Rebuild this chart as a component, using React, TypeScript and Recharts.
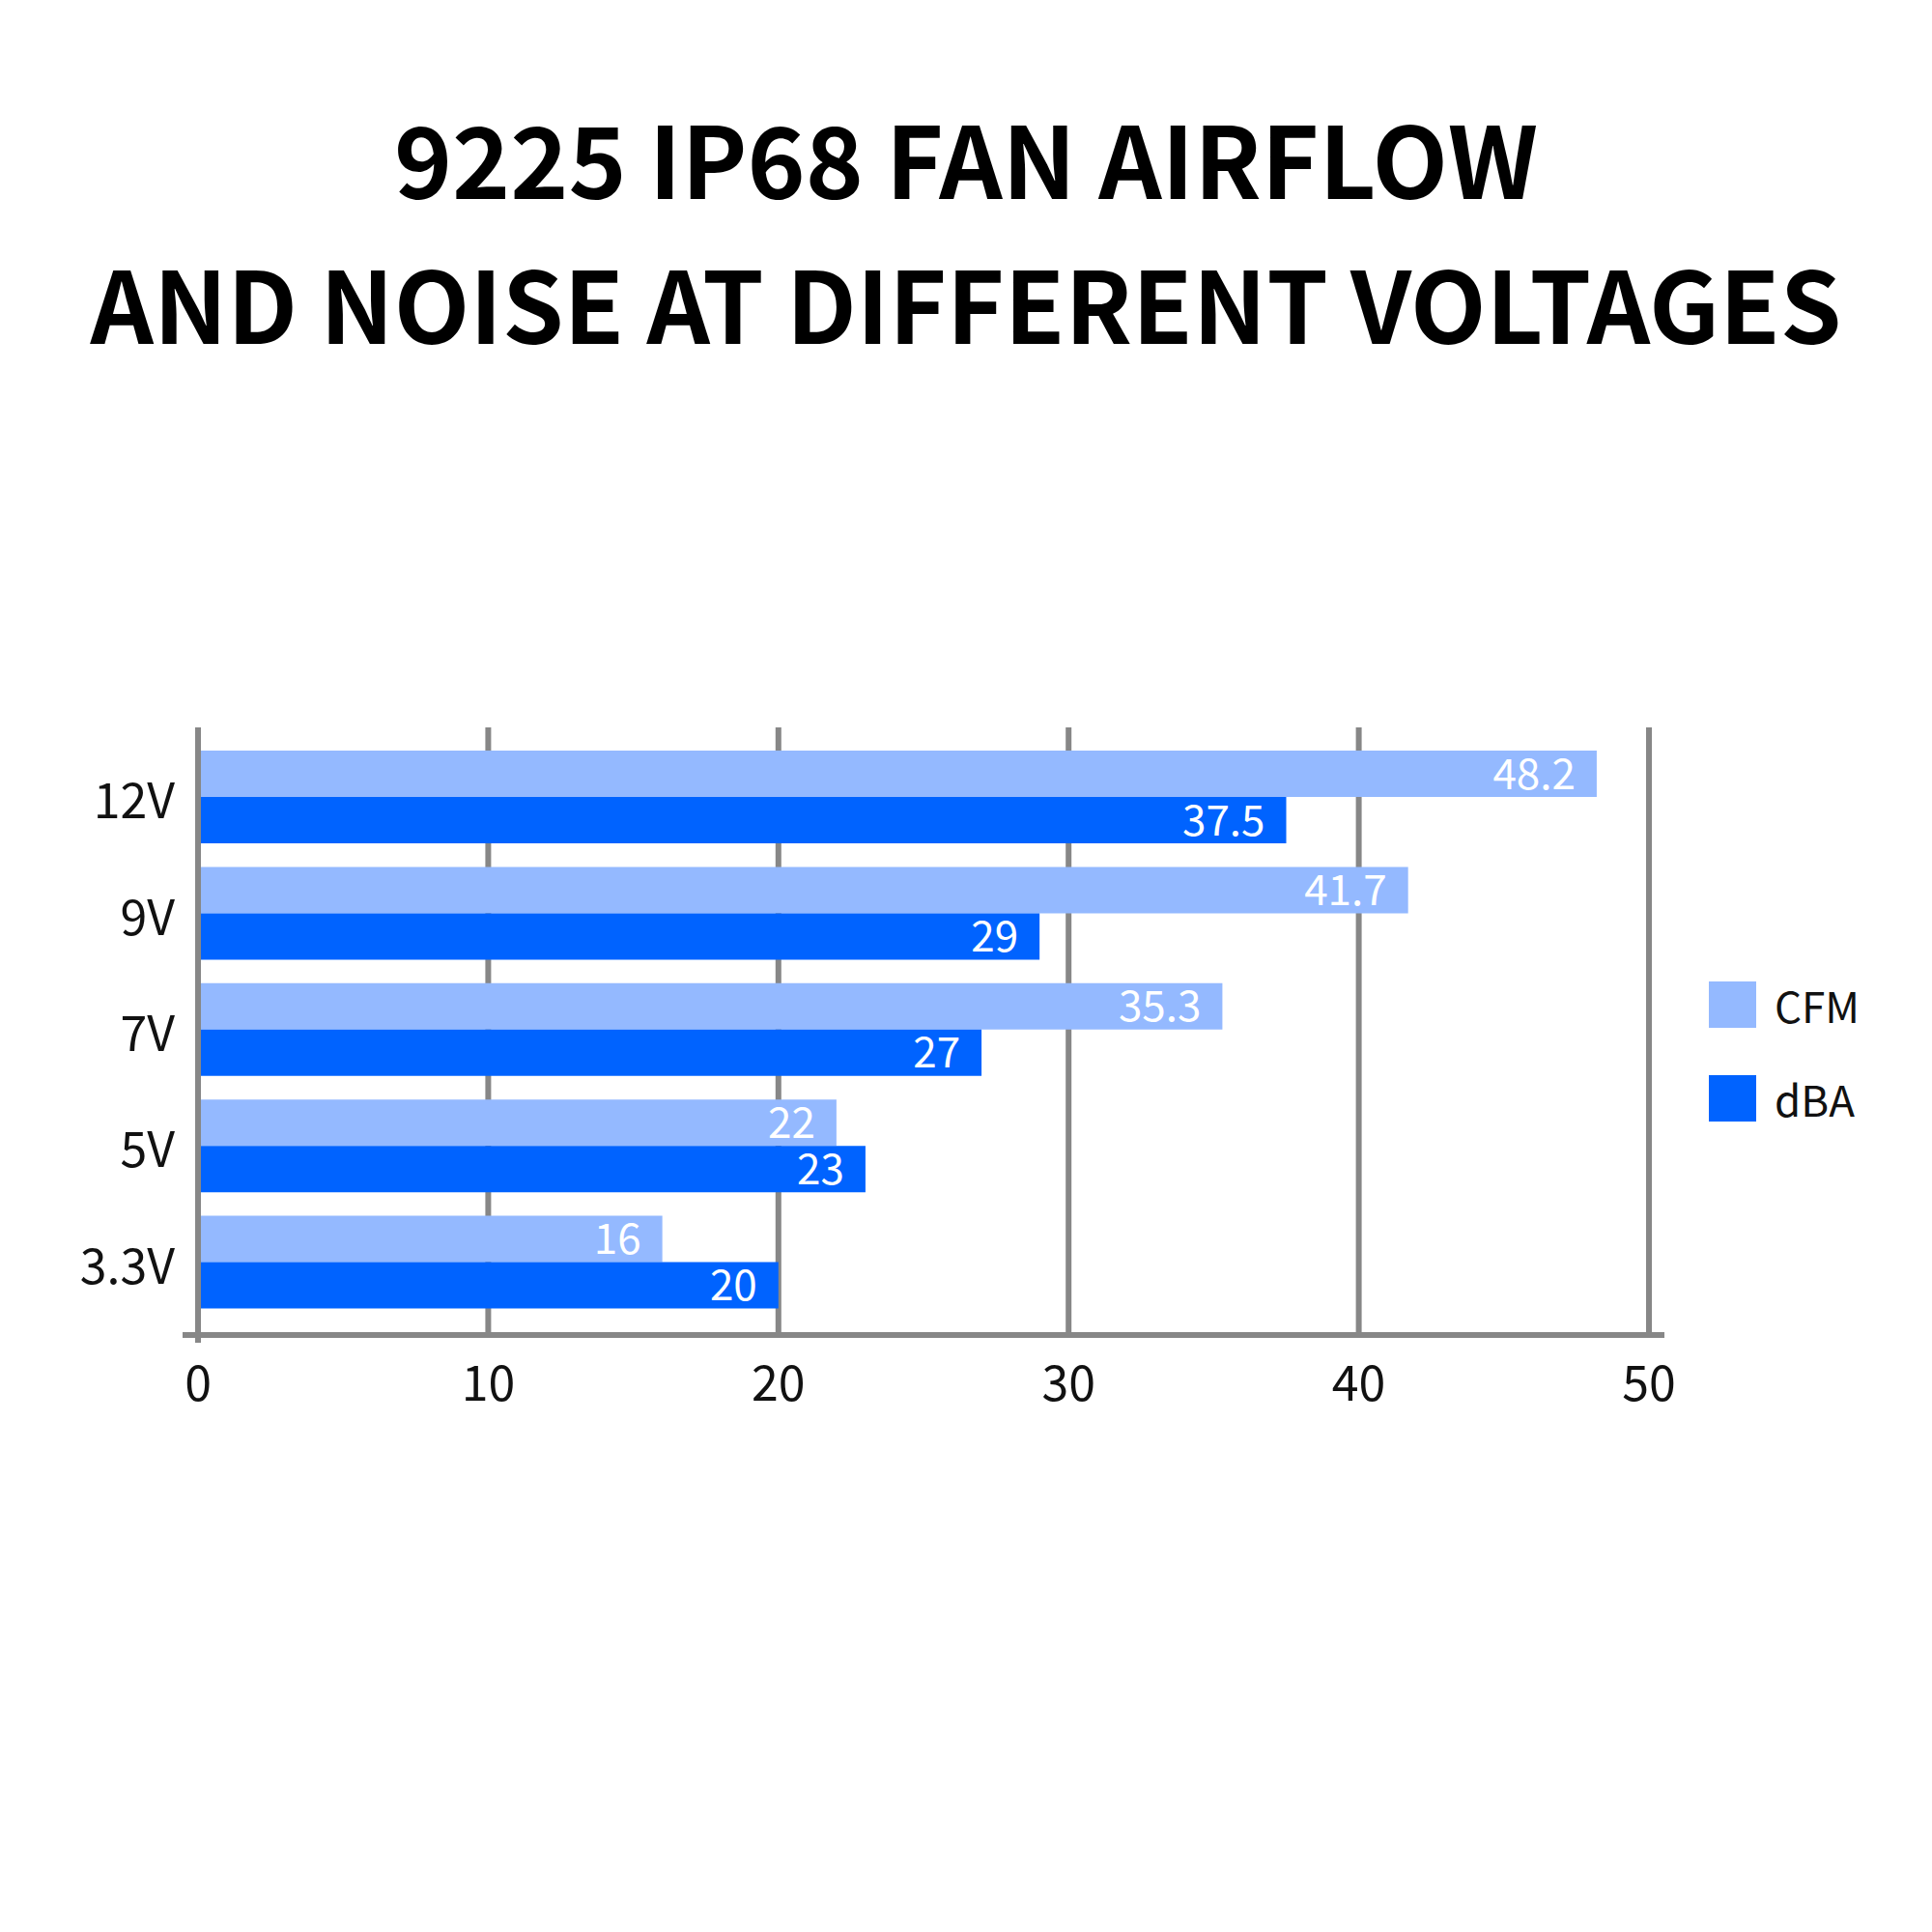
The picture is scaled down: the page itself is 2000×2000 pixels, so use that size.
import React from 'react';
import { BarChart, Bar, XAxis, YAxis, CartesianGrid, Legend, LabelList, ReferenceLine } from 'recharts';

const voltages = ['12V', '9V', '7V', '5V', '3.3V'];
const cfmValues = [48.2, 41.7, 35.3, 22, 16];
const dbaValues = [37.5, 29, 27, 23, 20];
const xTicks = [0, 10, 20, 30, 40, 50];

const data = voltages.map((voltage, i) => ({ voltage, CFM: cfmValues[i], dBA: dbaValues[i] }));

const FONT = '"Noto Sans CJK SC", "Noto Sans", sans-serif';
const GRID = '#878787';
const CFM_COLOR = '#94B9FF';
const DBA_COLOR = '#0063FF';

const XTick = (props: any) => {
  const { x, y, payload } = props;
  return (
    <g>
      {payload.value === 0 && (
        <line x1={x} x2={x} y1={y - 8} y2={y + 8} stroke={GRID} strokeWidth={6} />
      )}
      <text x={x} y={y + 68} textAnchor="middle" fontSize={50} fill="#111" fontFamily={FONT}>
        {payload.value}
      </text>
    </g>
  );
};

const YTick = (props: any) => {
  const { x, y, payload } = props;
  return (
    <text x={x} y={y} textAnchor="end" dominantBaseline="central" fontSize={50} fill="#111" fontFamily={FONT}>
      {payload.value}
    </text>
  );
};

const LegendContent = ({ payload }: any) => (
  <div style={{ fontFamily: FONT }}>
    {(payload || []).map((entry: any) => (
      <div key={entry.value} style={{ display: 'flex', alignItems: 'center', height: 48, marginBottom: 49 }}>
        <div style={{ width: 49, height: 48, background: entry.color, marginRight: 19 }} />
        <span style={{ fontSize: 44, color: '#111', lineHeight: '48px' }}>{entry.value}</span>
      </div>
    ))}
  </div>
);

export default function App() {
  return (
    <div style={{ position: 'absolute', left: 0, top: 0, width: 2000, height: 2000, background: '#fff' }}>
      <div
        style={{
          position: 'absolute',
          left: 0,
          top: 87,
          width: 2000,
          textAlign: 'center',
          fontFamily: FONT,
          fontWeight: 700,
          fontSize: 102,
          lineHeight: '150px',
          color: '#000',
        }}
      >
        <div>9225 IP68 FAN AIRFLOW</div>
        <div>AND NOISE AT DIFFERENT VOLTAGES</div>
      </div>
      <div style={{ position: 'absolute', left: 0, top: 0 }}>
        <BarChart
          width={2000}
          height={2000}
          data={data}
          layout="vertical"
          margin={{ top: 753, right: 277, bottom: 538, left: 0 }}
          barCategoryGap={12}
          barGap={0}
        >
          <CartesianGrid horizontal={false} syncWithTicks stroke={GRID} strokeWidth={6} />
          <XAxis
            type="number"
            domain={[0, 50]}
            ticks={xTicks}
            padding={{ left: 16, right: 16 }}
            axisLine={{ stroke: GRID, strokeWidth: 6 }}
            tickLine={false}
            tickSize={0}
            tickMargin={0}
            height={80}
            tick={<XTick />}
          />
          <YAxis
            type="category"
            dataKey="voltage"
            width={189}
            padding={{ top: 12, bottom: 15 }}
            axisLine={false}
            tickLine={false}
            tickSize={0}
            tickMargin={8}
            tick={<YTick />}
          />
          <Legend
            layout="vertical"
            align="center"
            verticalAlign="middle"
            content={<LegendContent />}
            wrapperStyle={{ left: 1769, top: 1016, width: 'auto' }}
          />
          <Bar dataKey="CFM" fill={CFM_COLOR} isAnimationActive={false}>
            <LabelList dataKey="CFM" position="insideRight" offset={22} fill="#fff" fontSize={44} fontFamily={FONT} />
          </Bar>
          <Bar dataKey="dBA" fill={DBA_COLOR} isAnimationActive={false}>
            <LabelList dataKey="dBA" position="insideRight" offset={22} fill="#fff" fontSize={44} fontFamily={FONT} />
          </Bar>
          <ReferenceLine x={0} stroke={GRID} strokeWidth={6} />
        </BarChart>
      </div>
    </div>
  );
}
